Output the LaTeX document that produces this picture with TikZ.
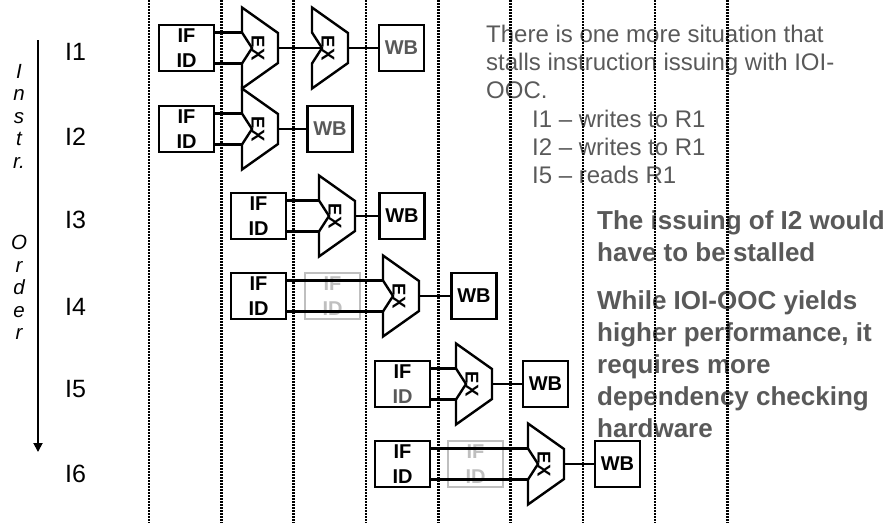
\documentclass[tikz,border=0pt]{standalone}
\usepackage{fontspec}
\setmainfont{Liberation Sans}
\usepackage{xcolor}
\usepackage{tikz}
\usetikzlibrary{arrows.meta, positioning}
\definecolor{notegray}{HTML}{595959}
\definecolor{ghostgray}{HTML}{BFBFBF}
\tikzset{
	unitbox/.style={draw, line width=2.4pt, inner sep=0pt, minimum height=46pt, align=center, font=\fontsize{20}{24.5}\selectfont\bfseries},
	ifid/.style={unitbox, minimum width=55pt},
	ghost/.style={ifid, draw=ghostgray, text=ghostgray},
	wbbox/.style={unitbox, minimum width=45pt},
	wire/.style={line width=2.4pt},
	cycleline/.style={line width=2.6pt, dash pattern=on 1.5pt off 1.5pt},
	extext/.style={rotate=-90, inner sep=0pt, font=\fontsize{18.5}{18.5}\selectfont\bfseries},
	instr/.style={anchor=base west, inner sep=0pt, font=\fontsize{25}{25}\selectfont},
	ordertext/.style={anchor=north, inner sep=0pt, align=center, font=\fontsize{20.5}{22.5}\selectfont\itshape},
	note/.style={anchor=north west, inner sep=0pt, align=left, text=notegray, font=\fontsize{24}{28}\selectfont},
	boldnote/.style={anchor=north west, inner sep=0pt, align=left, text=notegray, font=\fontsize{26}{32}\selectfont\bfseries},
	exunit/.pic={
		\draw[line width=2.4pt, line join=miter] (0,-40.5) -- (36,-15) -- (36,15) -- (0,40.5) -- (0,15.5) -- (10,0) -- (0,-15.5) -- cycle;
		\node[extext] at (16,0) {EX};
		\coordinate (-i1) at (0,-15.5);
		\coordinate (-i2) at (0,15.5);
		\coordinate (-n) at (10,0);
		\coordinate (-o) at (36,0);
	}
}
\begin{document}
\begin{tikzpicture}[x=1pt, y=-1pt]
	\useasboundingbox (0,0) rectangle (895,523);
	\node[ordertext] (order1) at (19,64) {I\\n\\s\\t\\r.};
	\node[ordertext] (order2) at (19,235) {O\\r\\d\\e\\r};
	\coordinate (ordtop) at (38,40);
	\coordinate (ordbot) at (38,452);
	\draw[line width=1.8pt, -{Triangle[length=9pt, width=9pt]}] (ordtop) -- (ordbot);
	\foreach \i/\y in {1/60, 2/145, 3/228, 4/315, 5/397, 6/482}
		\node[instr] (lab\i) at (65,\y) {I\i};
	\node[ghost] (gh4) at (332.5,296) {IF\\ID};
	\node[ghost] (gh6) at (475.5,464) {IF\\ID};
	\node[ifid] (if1) at (186.5,48) {IF\\ID};
	\node[ifid] (if2) at (186.5,129) {IF\\ID};
	\node[ifid] (if3) at (258.5,216) {IF\\ID};
	\node[ifid] (if4) at (258.5,296) {IF\\ID};
	\node[ifid] (if5) at (402.5,384) {IF\\\textcolor{notegray}{ID}};
	\node[ifid] (if6) at (402.5,464) {IF\\ID};
	\pic (ex1) at (242,48) {exunit};
	\pic (ex1b) at (312,48) {exunit};
	\pic (ex2) at (242,129) {exunit};
	\pic (ex3) at (319,216) {exunit};
	\pic (ex4) at (383,296) {exunit};
	\pic (ex5) at (456,384) {exunit};
	\pic (ex6) at (528,464) {exunit};
	\node[wbbox, text=notegray] (wb1) at (401.5,48) {WB};
	\node[wbbox, text=notegray] (wb2) at (330,129) {WB};
	\node[wbbox] (wb3) at (402,216) {WB};
	\node[wbbox] (wb4) at (474,296) {WB};
	\node[wbbox] (wb5) at (545.5,384) {WB};
	\node[wbbox] (wb6) at (617.5,464) {WB};
	\foreach \i in {1,...,6}{
		\draw[wire] (if\i.east |- ex\i-i1) -- (ex\i-i1);
		\draw[wire] (if\i.east |- ex\i-i2) -- (ex\i-i2);
	}
	\foreach \i in {2,...,6}
		\draw[wire] (ex\i-o) -- (wb\i.west);
	\draw[wire] (ex1-o) -- (ex1b-n);
	\draw[wire] (ex1b-o) -- (wb1.west);
	\node[note] (intro) at (486,24.5) {There is one more situation that\\stalls instruction issuing with IOI-\\OOC.};
	\node[note] (cases) at (532,110) {I1 -- writes to R1\\I2 -- writes to R1\\I5 -- reads R1};
	\node[boldnote] (stall) at (597,210) {The issuing of I2 would\\have to be stalled};
	\node[boldnote] (cost) at (597,290) {While IOI-OOC yields\\higher performance, it\\requires more\\dependency checking\\hardware};
	\foreach \k in {0,...,8}
		\draw[cycleline] (149+72.3*\k,0) -- (149+72.3*\k,523);
\end{tikzpicture}
\end{document}
